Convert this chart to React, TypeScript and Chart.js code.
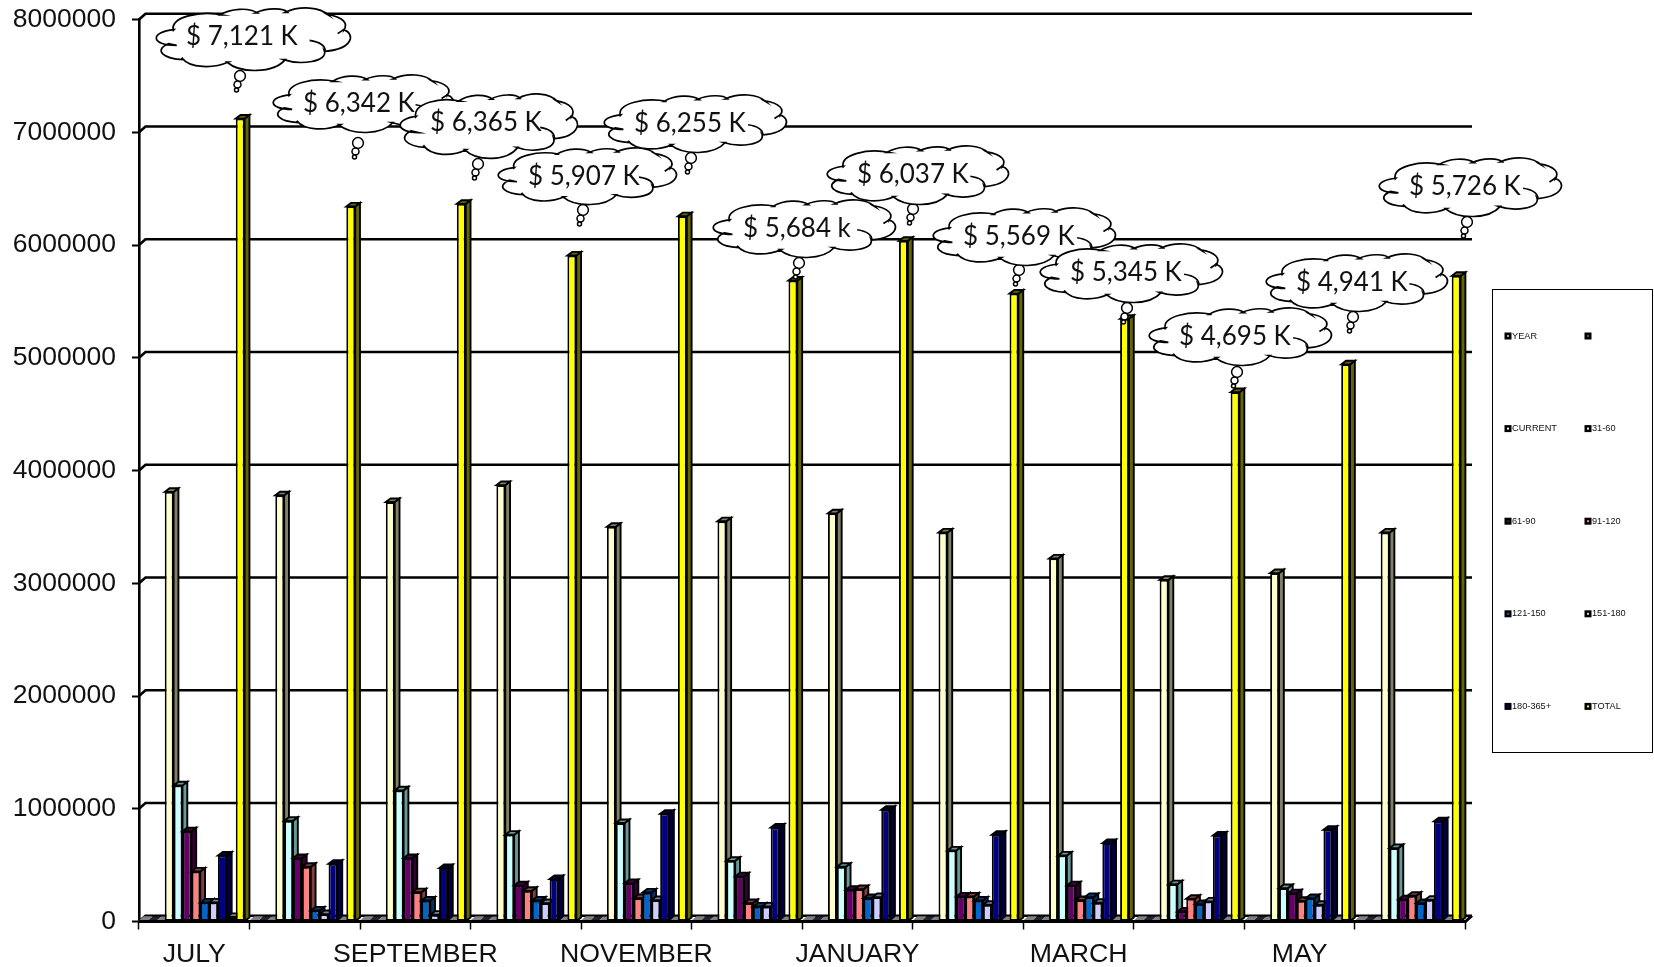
import React, { useEffect, useRef } from "react";
import { Chart, registerables } from "chart.js";

Chart.register(...registerables);

const months = ["JULY","AUGUST","SEPTEMBER","OCTOBER","NOVEMBER","DECEMBER","JANUARY","FEBRUARY","MARCH","APRIL","MAY","JUNE"];
const yearVals = [2010,2010,2010,2010,2010,2010,2011,2011,2011,2011,2011,2011];
const blankVals = [0,0,0,0,0,0,0,0,0,0,0,0];
const spacerVals = [0,0,0,0,0,0,0,0,0,0,0,0];
const current = [3810000,3780000,3720000,3870000,3500000,3550000,3620000,3450000,3220000,3030000,3090000,3450000];
const d31 = [1207000,893000,1163000,770000,873000,538000,485000,630000,586000,331000,296000,651000];
const d61 = [800000,562000,562000,320000,340000,400000,281000,222000,320000,89000,251000,198000];
const d91 = [444000,485000,260000,272000,207000,163000,287000,222000,190000,201000,183000,228000];
const d121 = [169000,98000,186000,186000,257000,133000,207000,186000,216000,154000,207000,163000];
const d151 = [169000,65000,60000,163000,190000,133000,216000,148000,166000,178000,148000,192000];
const d180 = [586000,512000,473000,376000,956000,834000,991000,769000,695000,763000,814000,888000];
const extraVals = [40000,0,0,0,0,0,0,0,0,0,0,0];
const totals = [7121000,6342000,6365000,5907000,6255000,5684000,6037000,5569000,5345000,4695000,4941000,5726000];

const seriesNames = ["YEAR","","", "CURRENT","31-60","61-90","91-120","121-150","151-180","180-365+","","TOTAL"];
const seriesValues = [yearVals,blankVals,spacerVals,current,d31,d61,d91,d121,d151,d180,extraVals,totals];
const frontColors = ["#808080","#222233","#808080","#FFFFCC","#CCFFFF","#660066","#FF8080","#0066CC","#CCCCFF","#000080","#800080","#FFFF00"];
const sideColors = ["#808080","#222233","#808080","#808066","#669999","#330033","#804040","#003366","#666680","#000040","#400040","#666600"];
const topColors = ["#808080","#222233","#808080","#808066","#669999","#4d004d","#804040","#004080","#8080a0","#000040","#808080","#666600"];

const legendNames = ["YEAR","","CURRENT","31-60","61-90","91-120","121-150","151-180","180-365+","TOTAL"];
const legendColors = ["#9999FF","#993366","#FFFFCC","#CCFFFF","#660066","#FF8080","#0066CC","#CCCCFF","#000080","#FFFF00"];

const calloutTexts = ["$ 7,121 K","$ 6,342 K","$ 6,365 K","$ 5,907 K","$ 6,255 K","$ 5,684 k","$ 6,037 K","$ 5,569 K","$ 5,345 K","$ 4,695 K","$ 4,941 K","$ 5,726 K"];
const calloutLefts = [155,272,399,497,603,712,826,932,1039,1148,1265,1378];
const calloutTops = [7,74,93,147,94,199,145,207,243,307,253,157];
const calloutWidths = [196,182,179,180,184,184,183,184,184,184,183,184];
const calloutHeights = [64,59,66,58,59,59,60,59,60,59,59,60];
const tailX = [240,358,478,583,691,799,913,1019,1127,1237,1353,1467];
const tailY = [76,143,164,210,158,263,209,270,308,372,317,222];

const BAR_SHIFT = -2.9;
const WALL_DX = 6.5;
const WALL_DY = 5.8;

const lobes = [
  [520,90, 510,50, 600,30, 668,44],
  [660,44, 690,25, 745,20, 772,38],
  [765,38, 800,22, 850,22, 862,36],
  [855,36, 900,15, 960,20, 985,45],
  [980,42, 1030,50, 1045,70, 1030,90],
  [1030,88, 1065,100, 1060,145, 975,153],
  [972,150, 985,185, 900,195, 850,178],
  [855,178, 820,220, 720,220, 680,185],
  [685,185, 640,205, 570,205, 545,172],
  [550,178, 490,175, 460,150, 505,130],
  [530,135, 450,135, 450,95, 522,88],
];

function drawCloud(ctx: CanvasRenderingContext2D, left: number, top: number, w: number, h: number, text: string) {
  const px = (v: number) => left + ((v - 465) / 587) * w;
  const py = (v: number) => top + ((v - 20) / 192) * h;
  ctx.save();
  ctx.beginPath();
  lobes.forEach((l, i) => {
    if (i === 0) ctx.moveTo(px(l[0]), py(l[1]));
    else ctx.lineTo(px(l[0]), py(l[1]));
    ctx.bezierCurveTo(px(l[2]), py(l[3]), px(l[4]), py(l[5]), px(l[6]), py(l[7]));
  });
  ctx.closePath();
  ctx.fillStyle = "#ffffff";
  ctx.fill();
  ctx.strokeStyle = "#000000";
  ctx.lineWidth = 1.7;
  ctx.stroke();
  ctx.beginPath();
  ctx.moveTo(px(1012), py(100)); ctx.lineTo(px(1030), py(88));
  ctx.moveTo(px(928), py(120)); ctx.bezierCurveTo(px(960), py(125), px(975), py(138), px(975), py(153));
  ctx.stroke();
  ctx.fillStyle = "#111111";
  ctx.font = "26px Lato";
  ctx.textAlign = "left";
  ctx.textBaseline = "middle";
  ctx.fillText(text, left + 31, top + 30);
  ctx.restore();
}

function drawTail(ctx: CanvasRenderingContext2D, x: number, y: number) {
  const parts = [[0, 0, 5.4], [-2.5, 8.5, 3.5], [-3.5, 14, 2]];
  ctx.save();
  ctx.strokeStyle = "#000";
  ctx.fillStyle = "#fff";
  ctx.lineWidth = 1.5;
  for (const [dx, dy, r] of parts) {
    ctx.beginPath();
    ctx.arc(x + dx, y + dy, r, 0, Math.PI * 2);
    ctx.fill();
    ctx.stroke();
  }
  ctx.restore();
}

const chart3d = {
  id: "chart3d",
  beforeDatasetsDraw(chart: any) {
    const { ctx, scales, chartArea } = chart;
    const yS = scales.y;
    ctx.save();
    ctx.strokeStyle = "#000";
    ctx.lineWidth = 2.6;
    for (const t of yS.ticks) {
      const y = yS.getPixelForValue(t.value);
      ctx.beginPath();
      ctx.moveTo(chartArea.left, y);
      ctx.lineTo(chartArea.left + WALL_DX, y - WALL_DY);
      ctx.lineTo(chartArea.right + WALL_DX, y - WALL_DY);
      ctx.stroke();
    }
    ctx.restore();
    ctx.save();
    ctx.translate(BAR_SHIFT, 0);
    chart.data.datasets.forEach((_: any, i: number) => {
      const meta = chart.getDatasetMeta(i);
      meta.data.forEach((bar: any) => {
        const { x, y, base, width } = bar.getProps(["x", "y", "base", "width"], true);
        const l = x - width / 2;
        const r = x + width / 2;
        const flat = base - y < 1;
        const dx = flat ? 5.5 : 4.8;
        const dy = flat ? 5 : 3.6;
        ctx.lineWidth = 1.9;
        ctx.strokeStyle = "#000";
        ctx.fillStyle = sideColors[i];
        ctx.beginPath();
        ctx.moveTo(r, y); ctx.lineTo(r + dx, y - dy); ctx.lineTo(r + dx, base - dy); ctx.lineTo(r, base);
        ctx.closePath();
        ctx.fill();
        if (!flat) ctx.stroke();
        ctx.fillStyle = topColors[i];
        ctx.beginPath();
        ctx.moveTo(l, y); ctx.lineTo(l + dx, y - dy); ctx.lineTo(r + dx, y - dy); ctx.lineTo(r, y);
        ctx.closePath();
        ctx.fill();
        if (!flat) { ctx.stroke(); bar.draw(ctx); }
      });
    });
    ctx.restore();
    return false;
  },
  afterDraw(chart: any) {
    const { ctx, chartArea } = chart;
    const b = chart.scales.y.getPixelForValue(0);
    ctx.save();
    ctx.strokeStyle = "#000";
    ctx.lineWidth = 3;
    ctx.beginPath();
    ctx.moveTo(chartArea.left, b);
    ctx.lineTo(chartArea.right, b);
    ctx.lineTo(chartArea.right + WALL_DX, b - WALL_DY);
    ctx.stroke();
    ctx.restore();
    calloutTexts.forEach((t, i) => {
      drawTail(ctx, tailX[i], tailY[i]);
      drawCloud(ctx, calloutLefts[i], calloutTops[i], calloutWidths[i], calloutHeights[i], t);
    });
    ctx.save();
    ctx.strokeStyle = "#000";
    ctx.lineWidth = 1;
    ctx.fillStyle = "#fff";
    ctx.fillRect(1492.5, 289.5, 160, 463);
    ctx.strokeRect(1492.5, 289.5, 160, 463);
    ctx.font = "9.2px 'Liberation Sans'";
    ctx.textBaseline = "middle";
    ctx.textAlign = "left";
    legendNames.forEach((name, i) => {
      const col = i % 2;
      const row = Math.floor(i / 2);
      const cx = 1508 + col * 80;
      const cy = 336 + row * 92.6;
      ctx.fillStyle = "#000";
      ctx.fillRect(cx - 3.5, cy - 3.5, 7, 7);
      ctx.fillStyle = legendColors[i];
      ctx.fillRect(cx - 1, cy - 1, 2, 2);
      ctx.fillStyle = "#111";
      if (name) ctx.fillText(name, cx + 4, cy);
    });
    ctx.restore();
  },
};

export default function App() {
  const ref = useRef<HTMLCanvasElement>(null);
  useEffect(() => {
    document.body.style.margin = "0";
    const chart = new Chart(ref.current!, {
      type: "bar",
      plugins: [chart3d as any],
      data: {
        labels: months,
        datasets: seriesValues.map((values, i) => ({
          label: seriesNames[i],
          data: values,
          backgroundColor: frontColors[i],
          borderColor: "#000000",
          borderWidth: 1.9,
          borderSkipped: false,
          barPercentage: 1,
          categoryPercentage: 0.9638,
        })),
      },
      options: {
        responsive: false,
        animation: false,
        devicePixelRatio: 1,
        layout: { padding: { top: 19.5, right: 188.5, left: 0, bottom: 0 } },
        plugins: { legend: { display: false }, tooltip: { enabled: false }, title: { display: false } },
        scales: {
          x: {
            afterFit: (s: any) => { s.height = 45.5; s.paddingLeft = 0; s.paddingRight = 0; },
            grid: { drawOnChartArea: false, drawTicks: true, tickLength: 8, tickColor: "#000", tickWidth: 1.5 },
            border: { display: false },
            ticks: {
              autoSkip: false,
              maxRotation: 0,
              minRotation: 0,
              padding: 9,
              color: "#111",
              font: { family: "'Liberation Sans'", size: 26.7 },
              callback: (_v: any, i: number) => (i % 2 === 0 ? months[i] : ""),
            },
          },
          y: {
            min: 0,
            max: 8000000,
            afterFit: (s: any) => { s.width = 139; s.paddingTop = 0; s.paddingBottom = 0; },
            grid: { drawOnChartArea: false, drawTicks: true, tickLength: 7, tickColor: "#000", tickWidth: 2 },
            border: { display: true, color: "#000", width: 2.6 },
            ticks: {
              stepSize: 1000000,
              padding: 16,
              color: "#111",
              font: { family: "'Liberation Sans'", size: 26.5 },
              callback: (v: any) => String(v),
            },
          },
        },
      },
    });
    return () => chart.destroy();
  }, []);
  return <canvas ref={ref} width={1654} height={967} style={{ display: "block", width: 1654, height: 967 }} />;
}
